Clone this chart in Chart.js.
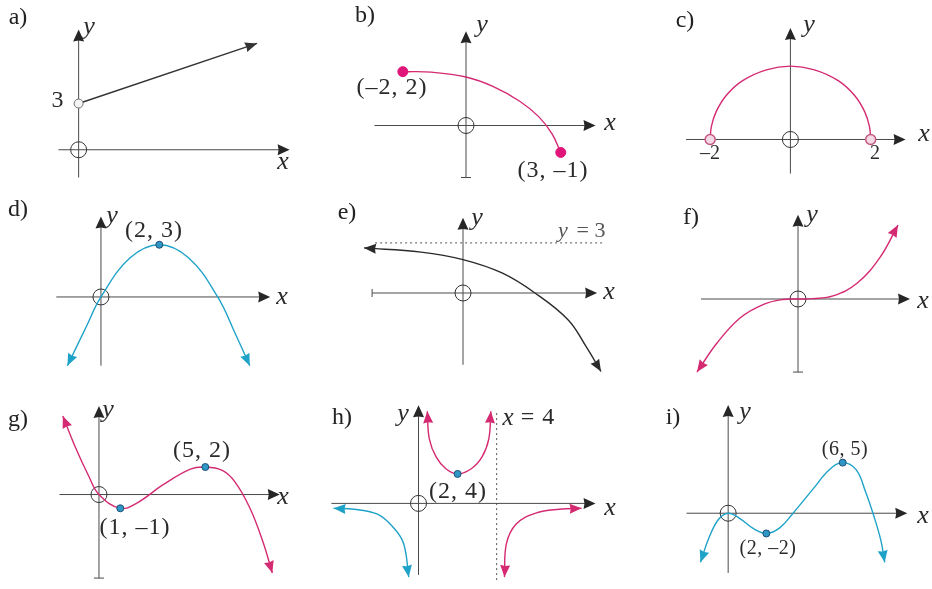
<!DOCTYPE html>
<html>
<head>
    <script src="https://cdn.jsdelivr.net/npm/chart.js"></script>
    <style>
        body {
            margin: 0;
            background: #fff;
        }
        #wrap {
            position: relative;
            width: 932px;
            height: 589px;
            overflow: hidden;
        }
        canvas {
            position: absolute;
            left: 0;
            top: 0;
        }
    </style>
</head>
<body>
    <div id="wrap"></div>

    <script>
        // points [x, y]
        let curveA = [[0, 3], [11.5, 6.9]];
        let curveB = [[-2, 2], [-1.1, 1.98], [0, 1.8], [0.85, 1.45], [1.7, 0.9], [2.3, 0.33], [2.72, -0.3], [3, -1]];
        let curveC = [[-2, 0], [-1.97, 0.35], [-1.85, 0.76], [-1.6, 1.2], [-1.2, 1.6], [-0.6, 1.9], [0, 2],
                      [0.6, 1.9], [1.2, 1.6], [1.6, 1.2], [1.85, 0.76], [1.97, 0.35], [2, 0]];
        let curveD = [[-1.15, -3.95], [-0.5, -1.7], [0, 0], [1, 2.25], [2, 3], [3, 2.25], [4, 0], [4.6, -2.1], [5.1, -3.95]];
        let curveE = [[-3.3, 2.7], [-1.4, 2.45], [0, 2], [1.3, 1.2], [2.4, 0], [3.5, -1.6], [4.1, -3.2], [4.6, -4.7]];
        let curveF = [[-2.02, -7.9], [-1.62, -4.76], [-1.16, -2.05], [-0.7, -0.6], [-0.3, -0.05], [0, 0],
                      [0.3, 0.04], [0.7, 0.34], [1.18, 1.7], [1.64, 4.5], [2, 8]];
        let curveG = [[-1.7, 5.7], [-1.1, 3.4], [-0.5, 1.4], [0, 0], [1, -1], [1.8, -0.6], [3, 0.7], [4.3, 1.85], [5, 2],
                      [5.8, 1.75], [6.4, 0.9], [7.1, -1], [7.7, -3.4], [8.15, -5.7]];
        let curveH1 = [[-4.35, -0.67], [-3.3, -0.8], [-2.1, -1.47], [-1.27, -3.33], [-0.76, -5.47], [-0.5, -10]];
        let curveH2 = [[0.45, 12.5], [0.55, 8.8], [0.9, 6.3], [1.4, 4.7], [2, 4], [2.7, 4.7], [3.25, 6.3], [3.6, 8.8], [3.7, 12.5]];
        let curveH3 = [[4.4, -10], [4.5, -5.47], [5, -2.8], [6, -1.33], [7.2, -0.8], [8.35, -0.67]];
        let curveI = [[-1.45, -4.85], [-1, -2.4], [-0.5, -0.6], [0, 0], [0.6, -0.5], [1.35, -1.55], [2, -2], [2.7, -1.45],
                      [3.4, 0], [4.45, 2.4], [5.3, 4.3], [6, 5], [6.7, 4.3], [7.2, 2.1], [7.6, -0.1], [8, -2.7], [8.2, -4.85]];

        let dotsA = [[0, 3]];
        let dotsB = [[-2, 2], [3, -1]];
        let dotsC = [[-2, 0], [2, 0]];
        let dotsD = [[2, 3]];
        let dotsG = [[1, -1], [5, 2]];
        let dotsH = [[2, 4]];
        let dotsI = [[2, -2], [6, 5]];

        const INK = '#262626';
        const PINK = '#d42a72';
        const BLUE = '#1fa2c8';
        const SERIF = '"Liberation Serif", "DejaVu Serif", serif';

        const dotStyles = {
            open: { r: 4.5, fill: '#f4f4f4', line: '#6e6e6e', w: 1 },
            ring: { r: 5, fill: '#f3d9e3', line: '#c65682', w: 1.5 },
            pink: { r: 5, fill: '#e0157a', line: '#e0157a', w: 1 },
            blue: { r: 3.5, fill: '#2f97c6', line: '#1d4e74', w: 1 }
        };

        // text: [string, x px, y px, kind]
        let panels = [
            {
                origin: [74, 147], unit: [15.7, 15.7], xAxis: [-1.3, 13.6], yAxis: [-1.8, 7.8], ticks: [],
                curves: [{ pts: curveA, color: '#333', arrows: 'end', smooth: false }],
                dots: [{ pts: dotsA, style: 'open' }],
                texts: [['a)', 18, 18, 'lab'], ['3', 58, 101, 'pt'], ['y', 89, 27, 'ax'], ['x', 283, 162, 'ax']]
            },
            {
                origin: [466, 122], unit: [32, 27.5], xAxis: [-2.9, 4.1], yAxis: [-1.93, 3.5], ticks: ['yb'],
                curves: [{ pts: curveB, color: PINK, arrows: 'none' }],
                dots: [{ pts: dotsB, style: 'pink' }],
                texts: [['b)', 365, 16, 'lab'], ['(–2, 2)', 392, 88, 'pt'], ['(3, –1)', 553, 171, 'pt'],
                        ['y', 482, 25, 'ax'], ['x', 610, 123, 'ax']]
            },
            {
                origin: [795, 136], unit: [40.7, 37.5], xAxis: [-2.6, 2.87], yAxis: [-0.93, 3.04], ticks: [],
                curves: [{ pts: curveC, color: PINK, arrows: 'none' }],
                dots: [{ pts: dotsC, style: 'ring' }],
                texts: [['c)', 685, 21, 'lab'], ['–2', 710, 154, 'num'], ['2', 875, 154, 'num'],
                        ['y', 809, 25, 'ax'], ['x', 924, 134, 'ax']]
            },
            {
                origin: [97, 297], unit: [29.5, 17.7], xAxis: [-1.53, 5.8], yAxis: [-3.95, 4.63], ticks: [],
                curves: [{ pts: curveD, color: BLUE, arrows: 'both' }],
                dots: [{ pts: dotsD, style: 'blue' }],
                texts: [['d)', 18, 210, 'lab'], ['(2, 3)', 154, 231, 'pt'], ['y', 112, 216, 'ax'], ['x', 282, 297, 'ax']]
            },
            {
                origin: [463, 293], unit: [30, 16.7], xAxis: [-3.03, 4.47], yAxis: [-4.3, 4.5], ticks: ['xl'],
                guides: [{ dir: 'h', at: 3, from: -2.93, to: 4.67 }],
                curves: [{ pts: curveE, color: '#2a2a2a', arrows: 'both' }],
                dots: [],
                texts: [['e)', 347, 213, 'lab'], ['y', 477, 218, 'ax'], ['y', 563, 231, 'gy'], ['= 3', 591, 231, 'g'],
                        ['x', 609, 292, 'ax']]
            },
            {
                origin: [798, 299], unit: [50, 9.25], xAxis: [-1.94, 2.24], yAxis: [-7.9, 9.1], ticks: ['yb'],
                curves: [{ pts: curveF, color: PINK, arrows: 'both' }],
                dots: [],
                texts: [['f)', 691, 218, 'lab'], ['y', 812, 215, 'ax'], ['x', 923, 301, 'ax']]
            },
            {
                origin: [95, 498], unit: [21.5, 14], xAxis: [-1.86, 8.5], yAxis: [-6.07, 6.43], ticks: ['yb'],
                curves: [{ pts: curveG, color: PINK, arrows: 'both' }],
                dots: [{ pts: dotsG, style: 'blue' }],
                texts: [['g)', 18, 420, 'lab'], ['(5, 2)', 202, 451, 'pt'], ['(1, –1)', 135, 528, 'pt'],
                        ['y', 108, 410, 'ax'], ['x', 283, 497, 'ax']]
            },
            {
                origin: [418, 507], unit: [19.75, 7.5], xAxis: [-4.46, 9.06], yAxis: [-9.7, 13.3], ticks: [],
                guides: [{ dir: 'v', at: 4, from: -10.4, to: 12.5 }],
                curves: [
                    { pts: curveH1, color: BLUE, arrows: 'both' },
                    { pts: curveH2, color: PINK, arrows: 'both' },
                    { pts: curveH3, color: PINK, arrows: 'both' }
                ],
                dots: [{ pts: dotsH, style: 'blue' }],
                texts: [['h)', 342, 418, 'lab'], ['y', 403, 414, 'ax'], ['(2, 4)', 458, 492, 'pt'],
                        ['x', 508, 418, 'ix'], ['= 4', 538, 418, 'pt'], ['x', 610, 508, 'ax']]
            },
            {
                origin: [731, 517], unit: [19.3, 10.3], xAxis: [-2.18, 9.38], yAxis: [-5.9, 10.7], ticks: [],
                curves: [{ pts: curveI, color: BLUE, arrows: 'both' }],
                dots: [{ pts: dotsI, style: 'blue' }],
                texts: [['i)', 673, 418, 'lab'], ['(6, 5)', 845, 450, 'sm'], ['(2, –2)', 768, 549, 'sm'],
                        ['y', 745, 412, 'ax'], ['x', 923, 516, 'ax']]
            }
        ];

        // kind: [style, size, colour, letter spacing]
        const fonts = {
            lab: ['', 24, '#222', '0px'],
            pt: ['', 24, '#2a2a2a', '1px'],
            num: ['', 20, '#2a2a2a', '0px'],
            sm: ['', 20, '#2a2a2a', '0.5px'],
            ax: ['italic ', 26, '#2a2a2a', '0px'],
            ix: ['italic ', 25, '#2a2a2a', '0px'],
            gy: ['italic ', 22, '#555', '0px'],
            g: ['', 22, '#555', '0px']
        };

        function arrowHead(ctx, x, y, ang, len, half, color) {
            ctx.save();
            ctx.translate(x, y);
            ctx.rotate(ang);
            ctx.fillStyle = color;
            ctx.beginPath();
            ctx.moveTo(0, 0);
            ctx.lineTo(-len, -half);
            ctx.lineTo(-len * 0.92, 0);
            ctx.lineTo(-len, half);
            ctx.closePath();
            ctx.fill();
            ctx.restore();
        }

        function seg(ctx, x1, y1, x2, y2) {
            ctx.beginPath();
            ctx.moveTo(x1, y1);
            ctx.lineTo(x2, y2);
            ctx.stroke();
        }

        const sketch = {
            id: 'sketch',
            beforeDatasetsDraw(chart) {
                const p = chart.options.plugins.sketch.panel;
                const ctx = chart.ctx;
                const X = v => chart.scales.x.getPixelForValue(v);
                const Y = v => chart.scales.y.getPixelForValue(v);
                ctx.save();

                ctx.strokeStyle = '#555';
                ctx.lineWidth = 1;
                ctx.setLineDash([2, 3]);
                (p.guides || []).forEach(g => {
                    if (g.dir === 'h') seg(ctx, X(g.from), Y(g.at), X(g.to), Y(g.at));
                    else seg(ctx, X(g.at), Y(g.from), X(g.at), Y(g.to));
                });
                ctx.setLineDash([]);

                let x0 = X(0), y0 = Y(0);
                ctx.strokeStyle = '#4a4a4a';
                seg(ctx, X(p.xAxis[0]), y0, X(p.xAxis[1]) - 8, y0);
                seg(ctx, x0, Y(p.yAxis[0]), x0, Y(p.yAxis[1]) + 8);
                if (p.ticks.includes('yb')) seg(ctx, x0 - 5, Y(p.yAxis[0]), x0 + 5, Y(p.yAxis[0]));
                if (p.ticks.includes('xl')) seg(ctx, X(p.xAxis[0]), y0 - 4, X(p.xAxis[0]), y0 + 4);
                arrowHead(ctx, X(p.xAxis[1]), y0, 0, 12, 5.5, INK);
                arrowHead(ctx, x0, Y(p.yAxis[1]), -Math.PI / 2, 12, 5.5, INK);

                ctx.strokeStyle = '#333';
                ctx.beginPath();
                ctx.arc(x0, y0, 8, 0, Math.PI * 2);
                ctx.stroke();
                ctx.restore();
            },
            afterDatasetsDraw(chart) {
                const p = chart.options.plugins.sketch.panel;
                const ctx = chart.ctx;
                chart.data.datasets.forEach((ds, i) => {
                    if (!ds.arrows || ds.arrows === 'none') return;
                    let els = chart.getDatasetMeta(i).data;
                    let n = els.length;
                    if (ds.arrows === 'end' || ds.arrows === 'both') {
                        let e = els[n - 1], prev = els[n - 2];
                        let cx = (e.cp1x !== undefined && ds.tension) ? e.cp1x : prev.x;
                        let cy = (e.cp1y !== undefined && ds.tension) ? e.cp1y : prev.y;
                        if (Math.hypot(e.x - cx, e.y - cy) < 0.5) { cx = prev.x; cy = prev.y; }
                        arrowHead(ctx, e.x, e.y, Math.atan2(e.y - cy, e.x - cx), 12, 5, ds.borderColor);
                    }
                    if (ds.arrows === 'both') {
                        let s = els[0], next = els[1];
                        let cx = (s.cp2x !== undefined && ds.tension) ? s.cp2x : next.x;
                        let cy = (s.cp2y !== undefined && ds.tension) ? s.cp2y : next.y;
                        if (Math.hypot(s.x - cx, s.y - cy) < 0.5) { cx = next.x; cy = next.y; }
                        arrowHead(ctx, s.x, s.y, Math.atan2(s.y - cy, s.x - cx), 12, 5, ds.borderColor);
                    }
                });

                ctx.save();
                ctx.textAlign = 'center';
                ctx.textBaseline = 'middle';
                p.texts.forEach(t => {
                    let f = fonts[t[3]];
                    ctx.font = f[0] + f[1] + 'px ' + SERIF;
                    ctx.fillStyle = f[2];
                    ctx.letterSpacing = f[3];
                    ctx.fillText(t[0], t[1], t[2]);
                });
                ctx.restore();
            }
        };

        const W = 932, H = 589;
        let wrap = document.getElementById('wrap');

        panels.forEach(p => {
            let cv = document.createElement('canvas');
            cv.width = W;
            cv.height = H;
            wrap.appendChild(cv);

            let datasets = [];
            p.dots.forEach(d => {
                let st = dotStyles[d.style];
                datasets.push({
                    data: d.pts.map(q => ({ x: q[0], y: q[1] })),
                    showLine: false,
                    pointRadius: st.r,
                    pointBackgroundColor: st.fill,
                    pointBorderColor: st.line,
                    pointBorderWidth: st.w
                });
            });
            p.curves.forEach(c => {
                datasets.push({
                    data: c.pts.map(q => ({ x: q[0], y: q[1] })),
                    showLine: true,
                    borderColor: c.color,
                    borderWidth: 1.4,
                    pointRadius: 0,
                    tension: c.smooth === false ? 0 : 0.4,
                    arrows: c.arrows
                });
            });

            new Chart(cv.getContext('2d'), {
                type: 'scatter',
                data: { datasets: datasets },
                options: {
                    responsive: false,
                    animation: false,
                    events: [],
                    devicePixelRatio: 1,
                    layout: { padding: 0 },
                    scales: {
                        x: { type: 'linear', display: false, min: -p.origin[0] / p.unit[0], max: (W - p.origin[0]) / p.unit[0] },
                        y: { type: 'linear', display: false, min: -(H - p.origin[1]) / p.unit[1], max: p.origin[1] / p.unit[1] }
                    },
                    plugins: {
                        legend: { display: false },
                        tooltip: { enabled: false },
                        sketch: { panel: p }
                    }
                },
                plugins: [sketch]
            });
        });
    </script>
</body>
</html>
